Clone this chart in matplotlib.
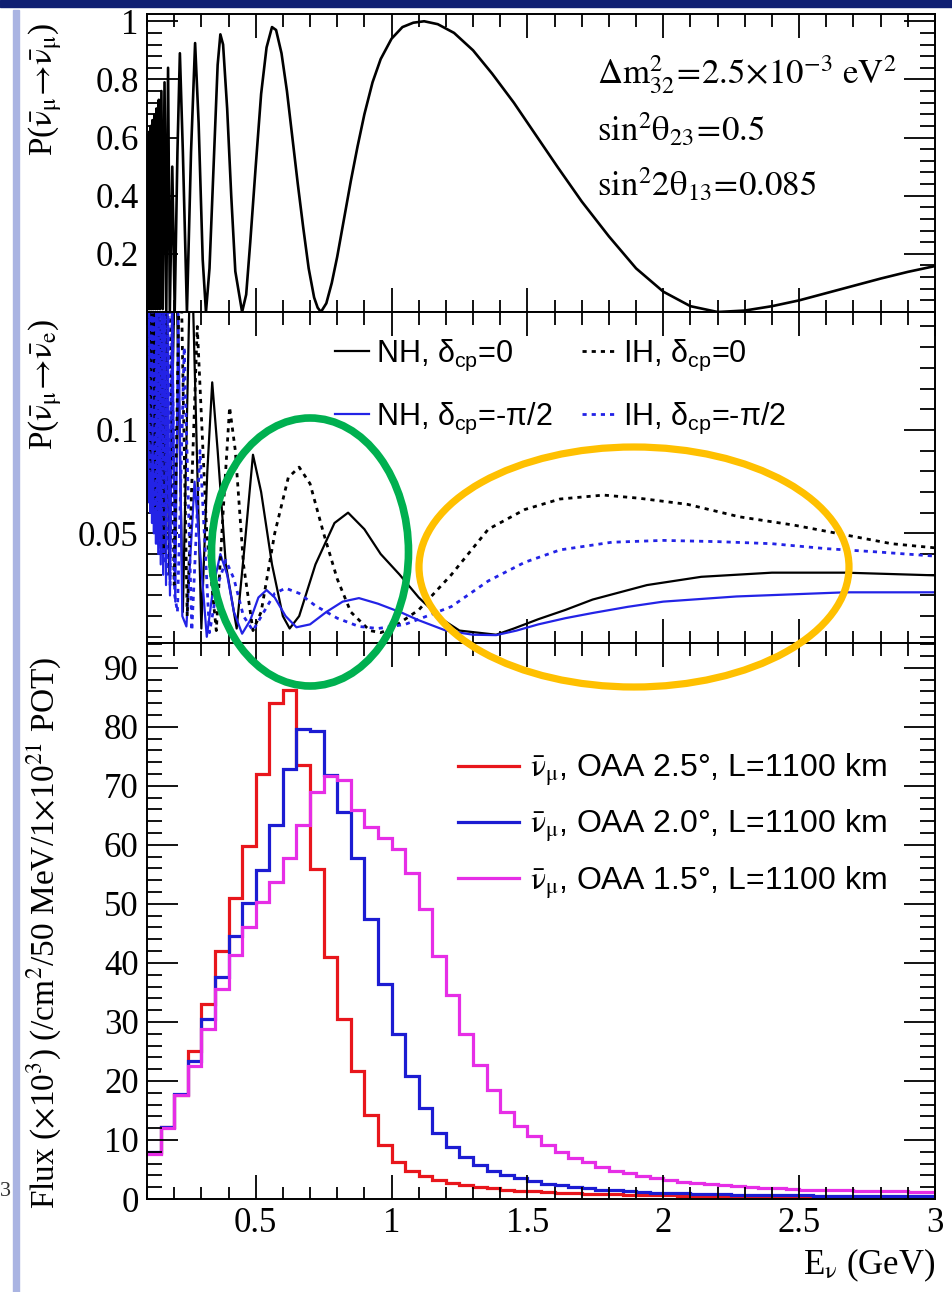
import numpy as np
import matplotlib
matplotlib.use('Agg')
import matplotlib.pyplot as plt
from matplotlib.patches import Ellipse, Rectangle
from matplotlib.lines import Line2D
from matplotlib.ticker import MultipleLocator, FuncFormatter

plt.rcParams['font.family'] = ['Liberation Serif', 'DejaVu Serif']
plt.rcParams['mathtext.fontset'] = 'stix'

# ---- top panel: nu_mu-bar survival probability
surv_e = [0.100, 0.1015, 0.103, 0.1045, 0.106, 0.1085, 0.111, 0.114, 0.117, 0.120,
          0.123, 0.127, 0.131, 0.135, 0.139, 0.1435, 0.148, 0.153, 0.158, 0.1645,
          0.171, 0.1775, 0.184, 0.193, 0.202, 0.212, 0.221, 0.232, 0.247, 0.262,
          0.277, 0.290, 0.305, 0.317, 0.330, 0.345, 0.360, 0.370, 0.380, 0.395,
          0.410, 0.425, 0.450, 0.465, 0.480, 0.500, 0.520, 0.540, 0.560, 0.575,
          0.595, 0.615, 0.635, 0.655, 0.675, 0.695, 0.715, 0.728, 0.740, 0.760,
          0.780, 0.800, 0.825, 0.850, 0.875, 0.900, 0.930, 0.960, 1.000, 1.040,
          1.080, 1.120, 1.170, 1.230, 1.300, 1.370, 1.450, 1.530, 1.610, 1.700,
          1.800, 1.900, 2.000, 2.100, 2.200, 2.300, 2.400, 2.500, 2.600, 2.700,
          2.800, 2.900, 3.000]
surv_p = [0.30, 0.60, 0.02, 0.61, 0.01, 0.62, 0.01, 0.64, 0.01, 0.66,
          0.01, 0.68, 0.01, 0.70, 0.01, 0.73, 0.01, 0.76, 0.01, 0.79,
          0.005, 0.84, 0.005, 0.50, 0.005, 0.55, 0.89, 0.55, 0.0, 0.55,
          0.925, 0.65, 0.18, 0.0, 0.15, 0.50, 0.85, 0.955, 0.92, 0.70,
          0.40, 0.14, 0.0, 0.06, 0.24, 0.50, 0.75, 0.91, 0.98, 0.97,
          0.89, 0.76, 0.60, 0.44, 0.29, 0.15, 0.05, 0.015, 0.0, 0.03,
          0.10, 0.19, 0.32, 0.45, 0.57, 0.68, 0.79, 0.87, 0.94, 0.98,
          0.995, 1.0, 0.99, 0.96, 0.90, 0.82, 0.72, 0.61, 0.50, 0.38,
          0.26, 0.15, 0.07, 0.02, 0.0, 0.005, 0.02, 0.04, 0.065, 0.09,
          0.115, 0.138, 0.158]

# ---- middle panel: nu_e-bar appearance probability
nh0_e = [0.100, 0.108, 0.117, 0.126, 0.138, 0.150, 0.165, 0.182, 0.205, 0.232,
         0.262, 0.300, 0.322, 0.340, 0.360, 0.390, 0.430, 0.460, 0.490, 0.520,
         0.560, 0.600, 0.625, 0.660, 0.720, 0.790, 0.840, 0.900, 0.960, 1.030,
         1.100, 1.180, 1.250, 1.385, 1.450, 1.540, 1.640, 1.740, 1.940, 2.140,
         2.400, 2.670, 3.000]
nh0_p = [0.20, 0.09, 0.20, 0.07, 0.20, 0.05, 0.20, 0.03, 0.20, 0.012,
         0.20, 0.004, 0.08, 0.123, 0.09, 0.035, 0.004, 0.045, 0.088, 0.070,
         0.035, 0.010, 0.004, 0.010, 0.035, 0.055, 0.060, 0.052, 0.040, 0.030,
         0.019, 0.009, 0.003, 0.001, 0.004, 0.0085, 0.013, 0.018, 0.025, 0.029,
         0.031, 0.031, 0.0297]

ih0_e = [0.100, 0.110, 0.121, 0.133, 0.147, 0.162, 0.180, 0.200, 0.222, 0.248,
         0.285, 0.320, 0.355, 0.380, 0.404, 0.425, 0.455, 0.490, 0.520, 0.570,
         0.620, 0.660, 0.700, 0.750, 0.800, 0.850, 0.920, 0.960, 1.000, 1.100,
         1.220, 1.356, 1.490, 1.620, 1.780, 1.910, 2.090, 2.280, 2.480, 2.680,
         2.840, 3.000]
ih0_p = [0.20, 0.08, 0.20, 0.06, 0.20, 0.04, 0.20, 0.025, 0.20, 0.010,
         0.150, 0.050, 0.003, 0.060, 0.111, 0.090, 0.035, 0.003, 0.012, 0.050,
         0.077, 0.082, 0.074, 0.050, 0.028, 0.012, 0.003, 0.002, 0.004, 0.013,
         0.030, 0.052, 0.0615, 0.0666, 0.0685, 0.067, 0.064, 0.058, 0.054, 0.049,
         0.045, 0.043]

nhm_e = [0.100, 0.102, 0.104, 0.1065, 0.109, 0.112, 0.115, 0.1185, 0.122, 0.1255,
         0.129, 0.133, 0.137, 0.1415, 0.146, 0.1505, 0.155, 0.1595, 0.164, 0.170,
         0.176, 0.1845, 0.193, 0.204, 0.215, 0.230, 0.245, 0.275, 0.320, 0.345,
         0.370, 0.395, 0.420, 0.450, 0.480, 0.510, 0.540, 0.570, 0.610, 0.650,
         0.700, 0.760, 0.820, 0.880, 0.950, 1.040, 1.100, 1.200, 1.300, 1.385,
         1.460, 1.540, 1.640, 1.740, 1.870, 2.000, 2.270, 2.670, 3.000]
nhm_p = [0.16, 0.07, 0.16, 0.065, 0.16, 0.06, 0.16, 0.055, 0.16, 0.05,
         0.16, 0.045, 0.16, 0.04, 0.16, 0.035, 0.16, 0.03, 0.16, 0.025,
         0.16, 0.02, 0.16, 0.017, 0.16, 0.01, 0.005, 0.075, 0.0, 0.025,
         0.040, 0.030, 0.012, 0.0015, 0.008, 0.019, 0.0226, 0.019, 0.010, 0.0046,
         0.006, 0.012, 0.017, 0.0187, 0.016, 0.0115, 0.008, 0.003, 0.001, 0.0008,
         0.003, 0.006, 0.009, 0.0115, 0.0145, 0.017, 0.0195, 0.0215, 0.0215]

ihm_e = [0.100, 0.103, 0.106, 0.109, 0.112, 0.1155, 0.119, 0.123, 0.127, 0.131,
         0.135, 0.140, 0.145, 0.150, 0.155, 0.1605, 0.166, 0.172, 0.178, 0.185,
         0.192, 0.202, 0.212, 0.237, 0.265, 0.295, 0.330, 0.360, 0.390, 0.420,
         0.455, 0.490, 0.530, 0.570, 0.610, 0.660, 0.720, 0.800, 0.880, 0.950,
         1.050, 1.130, 1.220, 1.356, 1.490, 1.620, 1.810, 2.000, 2.200, 2.400,
         2.600, 2.790, 3.000]
ihm_p = [0.16, 0.08, 0.16, 0.07, 0.16, 0.065, 0.16, 0.06, 0.16, 0.05,
         0.16, 0.045, 0.16, 0.04, 0.16, 0.035, 0.16, 0.03, 0.16, 0.025,
         0.16, 0.02, 0.012, 0.14, 0.003, 0.09, 0.002, 0.025, 0.037, 0.028,
         0.010, 0.003, 0.012, 0.021, 0.0235, 0.021, 0.015, 0.009, 0.005, 0.004,
         0.006, 0.010, 0.0146, 0.027, 0.036, 0.042, 0.0457, 0.0466, 0.046, 0.045,
         0.0426, 0.041, 0.039]

# ---- bottom panel: flux histograms, 50 MeV bins from 0.1 to 3.0 GeV
bin_lo, bin_hi, bin_w = 0.10, 3.00, 0.05
flux_25 = [7.8, 12.2, 17.7, 25.0, 33.1, 42.0, 51.0, 59.8, 72.0, 84.1,
           86.3, 73.6, 55.9, 41.0, 30.5, 21.7, 14.3, 9.2, 6.3, 4.8,
           3.9, 3.2, 2.7, 2.3, 2.0, 1.8, 1.6, 1.4, 1.3, 1.2,
           1.1, 1.0, 0.9, 0.85, 0.8, 0.75, 0.7, 0.65, 0.6, 0.58,
           0.55, 0.52, 0.5, 0.48, 0.46, 0.44, 0.42, 0.4, 0.39, 0.38,
           0.37, 0.36, 0.35, 0.34, 0.33, 0.32, 0.31, 0.30]
flux_20 = [7.9, 12.2, 17.8, 23.4, 30.5, 37.6, 44.6, 50.1, 55.8, 63.3,
           72.9, 79.7, 79.3, 71.9, 65.6, 57.8, 47.4, 36.4, 27.9, 20.9,
           15.4, 11.2, 8.8, 7.1, 5.8, 4.8, 4.1, 3.5, 3.0, 2.6,
           2.3, 2.0, 1.8, 1.6, 1.45, 1.3, 1.2, 1.1, 1.0, 0.95,
           0.9, 0.85, 0.8, 0.76, 0.72, 0.68, 0.65, 0.62, 0.6, 0.58,
           0.56, 0.54, 0.52, 0.5, 0.49, 0.48, 0.47, 0.46]
flux_15 = [7.6, 12.1, 17.6, 22.5, 28.8, 35.5, 41.3, 46.1, 50.4, 53.7,
           57.8, 63.4, 68.9, 71.6, 71.0, 65.9, 63.1, 61.2, 59.3, 55.3,
           49.2, 41.2, 34.5, 27.9, 22.7, 18.5, 14.8, 12.4, 10.6, 9.1,
           7.9, 7.0, 6.2, 5.5, 4.8, 4.4, 3.9, 3.5, 3.2, 2.9,
           2.7, 2.5, 2.3, 2.15, 2.0, 1.9, 1.8, 1.7, 1.6, 1.55,
           1.5, 1.45, 1.4, 1.35, 1.3, 1.28, 1.25, 1.22]

NUBAR = r'$\bar{\mathrm{\nu}}_{\mathrm{\mu}}$'
flux_labels = [NUBAR + ', OAA 2.5°, L=1100 km',
               NUBAR + ', OAA 2.0°, L=1100 km',
               NUBAR + ', OAA 1.5°, L=1100 km']
osc_labels = [r'NH, $\mathregular{\delta_{cp}}$=0', r'NH, $\mathregular{\delta_{cp}}$=-$\mathregular{\pi}$/2',
              r'IH, $\mathregular{\delta_{cp}}$=0', r'IH, $\mathregular{\delta_{cp}}$=-$\mathregular{\pi}$/2']
param_lines = [r'$\mathrm{\Delta m}^{2}_{32}\!=\!2.5\!\times\!10^{-3}\ \mathrm{eV}^{2}$',
               r'$\mathrm{sin}^{2}\mathrm{\theta}_{23}\!=\!0.5$',
               r'$\mathrm{sin}^{2}2\mathrm{\theta}_{13}\!=\!0.085$']

W, H = 952, 1292
RED, BLUE, MAG = '#e8161c', '#1c1cd2', '#e62ee6'
LBLUE = '#2323e6'


def fx(px):
    return px / W


def fy(py):
    return 1 - py / H


def style_axis(ax, ymaj, ymin):
    ax.set_xlim(0.1, 3.0)
    ax.xaxis.set_major_locator(MultipleLocator(0.5))
    ax.xaxis.set_minor_locator(MultipleLocator(0.1))
    ax.yaxis.set_minor_locator(MultipleLocator(ymin))
    ax.set_yticks(ymaj)
    ax.yaxis.set_major_formatter(FuncFormatter(lambda v, p: '%g' % round(v, 4)))
    ax.xaxis.set_major_formatter(FuncFormatter(lambda v, p: '%g' % round(v, 4)))
    ax.tick_params(which='both', direction='in', top=True, right=True,
                   width=1.3, labelsize=25, pad=6)
    ax.tick_params(axis='y', which='major', length=22)
    ax.tick_params(axis='y', which='minor', length=11)
    ax.tick_params(axis='x', which='major', length=17)
    ax.tick_params(axis='x', which='minor', length=9)
    for s in ax.spines.values():
        s.set_linewidth(1.4)


fig = plt.figure(figsize=(W / 100, H / 100), dpi=100)

x0, x1 = 147, 935
ax_top = fig.add_axes([fx(x0), fy(312), fx(x1) - fx(x0), fy(14) - fy(312)])
ax_mid = fig.add_axes([fx(x0), fy(643), fx(x1) - fx(x0), fy(312) - fy(643)])
ax_bot = fig.add_axes([fx(x0), fy(1199), fx(x1) - fx(x0), fy(643) - fy(1199)])

# top
ax_top.plot(surv_e, surv_p, color='black', lw=1.9)
ax_top.set_ylim(0.0, 1.025)
style_axis(ax_top, [0.2, 0.4, 0.6, 0.8, 1.0], 0.04)
ax_top.tick_params(labelbottom=False)
for i, t in enumerate(param_lines):
    ax_top.text(fx(597), fy(75 + 55 * i), t, transform=fig.transFigure,
                fontsize=25, va='center', ha='left')

# middle
l1, = ax_mid.plot(nh0_e, nh0_p, color='black', lw=1.6)
l2, = ax_mid.plot(nhm_e, nhm_p, color=LBLUE, lw=1.6)
l3, = ax_mid.plot(ih0_e, ih0_p, color='black', lw=2.0, ls=(0, (1.5, 1.8)))
l4, = ax_mid.plot(ihm_e, ihm_p, color=LBLUE, lw=2.0, ls=(0, (1.5, 1.8)))
ax_mid.set_ylim(-0.003, 0.157)
style_axis(ax_mid, [0.05, 0.1], 0.01)
ax_mid.tick_params(labelbottom=False)
ax_mid.legend([l1, l2, l3, l4], osc_labels, ncol=2, loc='upper left',
              bbox_to_anchor=(fx(335), fy(338)), bbox_transform=fig.transFigure,
              frameon=False, prop={'family': 'Liberation Sans', 'size': 22},
              handlelength=1.1, handletextpad=0.25, columnspacing=0.95,
              labelspacing=0.9, borderpad=0, borderaxespad=0)

# bottom
edges = np.round(np.arange(bin_lo, bin_hi + bin_w / 2, bin_w), 2)
ax_bot.stairs(flux_25, edges, color=RED, lw=2.3, baseline=None)
ax_bot.stairs(flux_20, edges, color=BLUE, lw=2.3, baseline=None)
ax_bot.stairs(flux_15, edges, color=MAG, lw=2.3, baseline=None)
ax_bot.set_ylim(0, 94.2)
style_axis(ax_bot, list(range(0, 91, 10)), 2)
hands = [Line2D([], [], color=c, lw=2.3) for c in (RED, BLUE, MAG)]
ax_bot.legend(hands, flux_labels, loc='upper left',
              bbox_to_anchor=(fx(458), fy(752)), bbox_transform=fig.transFigure,
              frameon=False, prop={'family': 'Liberation Sans', 'size': 23},
              handlelength=1.9, handletextpad=0.35,
              labelspacing=0.62, borderpad=0, borderaxespad=0)

# axis titles
fig.text(fx(45), fy(90), r'P($\bar{\mathrm{\nu}}_{\mathrm{\mu}}\!\rightarrow\!\bar{\mathrm{\nu}}_{\mathrm{\mu}}$)',
         rotation=90, ha='center', va='center', fontsize=24)
fig.text(fx(45), fy(385), r'P($\bar{\mathrm{\nu}}_{\mathrm{\mu}}\!\rightarrow\!\bar{\mathrm{\nu}}_{\mathrm{e}}$)',
         rotation=90, ha='center', va='center', fontsize=24)
fig.text(fx(44), fy(933), r'Flux ($\times$10$^{3}$) (/cm$^{2}$/50 MeV/1$\times$10$^{21}$ POT)',
         rotation=90, ha='center', va='center', fontsize=24)
fig.text(fx(935), fy(1265), r'E$_{\mathrm{\nu}}$ (GeV)', ha='right', va='center', fontsize=25)

# slide decorations and highlight ellipses
fig.add_artist(Rectangle((0, fy(7)), 1, 7 / H, transform=fig.transFigure,
                         color='#0f1f72', zorder=10))
fig.add_artist(Rectangle((fx(13), 0), 6 / W, fy(10), transform=fig.transFigure,
                         color='#aab4e2', zorder=10))
fig.text(fx(0), fy(1192), '3', fontsize=16, color='#333333', va='center', ha='left')
fig.add_artist(Ellipse((fx(310), fy(552)), 197 / W, 268 / H, transform=fig.transFigure,
                       fill=False, ec='#00b050', lw=5.5, zorder=11))
fig.add_artist(Ellipse((fx(634), fy(567)), 430 / W, 240 / H, transform=fig.transFigure,
                       fill=False, ec='#ffc000', lw=5.2, zorder=11))

fig.savefig('out.png', dpi=100)
